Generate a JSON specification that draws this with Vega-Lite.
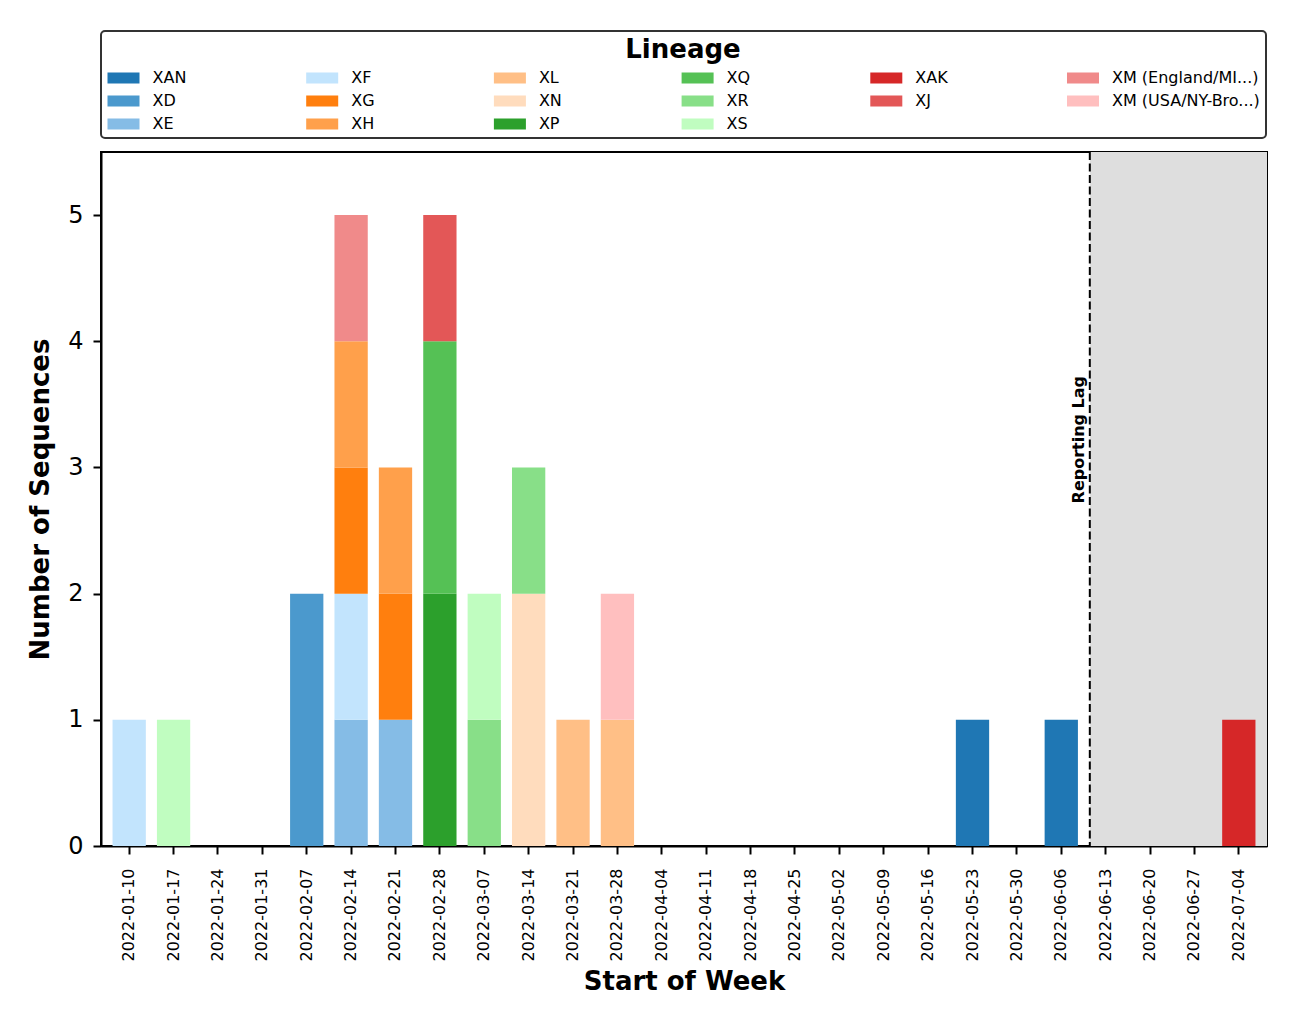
{
  "$schema": "https://vega.github.io/schema/vega-lite/v6.json",
  "width": 1166,
  "height": 694,
  "autosize": {"type": "none"},
  "padding": {"left": 101, "top": 152, "right": 29, "bottom": 177},
  "background": "white",
  "datasets": {
    "counts": [
      {"week": "2022-01-10", "lineage": "XF", "count": 1},
      {"week": "2022-01-17", "lineage": "XS", "count": 1},
      {"week": "2022-02-07", "lineage": "XD", "count": 2},
      {"week": "2022-02-14", "lineage": "XE", "count": 1},
      {"week": "2022-02-14", "lineage": "XF", "count": 1},
      {"week": "2022-02-14", "lineage": "XG", "count": 1},
      {"week": "2022-02-14", "lineage": "XH", "count": 1},
      {"week": "2022-02-14", "lineage": "XM (England/MI...)", "count": 1},
      {"week": "2022-02-21", "lineage": "XE", "count": 1},
      {"week": "2022-02-21", "lineage": "XG", "count": 1},
      {"week": "2022-02-21", "lineage": "XH", "count": 1},
      {"week": "2022-02-28", "lineage": "XP", "count": 2},
      {"week": "2022-02-28", "lineage": "XQ", "count": 2},
      {"week": "2022-02-28", "lineage": "XJ", "count": 1},
      {"week": "2022-03-07", "lineage": "XR", "count": 1},
      {"week": "2022-03-07", "lineage": "XS", "count": 1},
      {"week": "2022-03-14", "lineage": "XN", "count": 2},
      {"week": "2022-03-14", "lineage": "XR", "count": 1},
      {"week": "2022-03-21", "lineage": "XL", "count": 1},
      {"week": "2022-03-28", "lineage": "XL", "count": 1},
      {"week": "2022-03-28", "lineage": "XM (USA/NY-Bro...)", "count": 1},
      {"week": "2022-05-23", "lineage": "XAN", "count": 1},
      {"week": "2022-06-06", "lineage": "XAN", "count": 1},
      {"week": "2022-07-04", "lineage": "XAK", "count": 1}
    ],
    "lineages": [
      {"lineage": "XAN", "rank": 1},
      {"lineage": "XD", "rank": 2},
      {"lineage": "XE", "rank": 3},
      {"lineage": "XF", "rank": 4},
      {"lineage": "XG", "rank": 5},
      {"lineage": "XH", "rank": 6},
      {"lineage": "XL", "rank": 7},
      {"lineage": "XN", "rank": 8},
      {"lineage": "XP", "rank": 9},
      {"lineage": "XQ", "rank": 10},
      {"lineage": "XR", "rank": 11},
      {"lineage": "XS", "rank": 12},
      {"lineage": "XAK", "rank": 13},
      {"lineage": "XJ", "rank": 14},
      {"lineage": "XM (England/MI...)", "rank": 15},
      {"lineage": "XM (USA/NY-Bro...)", "rank": 16}
    ],
    "lag": [
      {"cutoff": "2022-06-10T12:00:00", "label": "Reporting Lag"}
    ]
  },
  "config": {
    "font": "DejaVu Sans",
    "view": {"stroke": "#000000", "strokeWidth": 2},
    "axis": {
      "labelFont": "DejaVu Sans",
      "titleFont": "DejaVu Sans",
      "labelColor": "#000000",
      "titleColor": "#000000",
      "domainColor": "#000000",
      "tickColor": "#000000",
      "domainWidth": 2,
      "tickWidth": 2,
      "tickSize": 8,
      "grid": false,
      "titleFontWeight": "bold",
      "titleFontSize": 26
    }
  },
  "layer": [
    {
      "data": {"name": "lag"},
      "encoding": {
        "x": {
          "field": "cutoff",
          "type": "temporal",
          "axis": null,
          "scale": {
            "nice": false,
            "domain": [
              {"year": 2022, "month": 1, "date": 5, "hours": 13, "minutes": 19},
              {"year": 2022, "month": 7, "date": 8, "hours": 10, "minutes": 41}
            ]
          }
        }
      },
      "layer": [
        {
          "mark": {"type": "rect", "color": "#dedede"},
          "encoding": {
            "x2": {"datum": {"year": 2022, "month": 7, "date": 8, "hours": 10, "minutes": 41}}
          }
        },
        {
          "mark": {"type": "rule", "color": "#000000", "strokeWidth": 2, "strokeDash": [8, 3.5]},
          "encoding": {}
        },
        {
          "mark": {"type": "text", "angle": 270, "font": "DejaVu Sans", "fontWeight": "bold", "fontSize": 16, "align": "center", "baseline": "bottom", "dy": -3, "color": "#000000"},
          "encoding": {
            "text": {"field": "label"},
            "y": {"datum": 3.22, "type": "quantitative", "scale": {"domain": [0, 5.5], "nice": false}}
          }
        }
      ]
    },
    {
      "data": {"name": "counts"},
      "transform": [
        {"lookup": "lineage", "from": {"data": {"name": "lineages"}, "key": "lineage", "fields": ["rank"]}}
      ],
      "mark": {"type": "bar"},
      "encoding": {
        "x": {
          "field": "week",
          "type": "ordinal",
          "scale": {
            "type": "band",
            "paddingInner": 0.25,
            "paddingOuter": 0.26,
            "domain": ["2022-01-10","2022-01-17","2022-01-24","2022-01-31","2022-02-07","2022-02-14","2022-02-21","2022-02-28","2022-03-07","2022-03-14","2022-03-21","2022-03-28","2022-04-04","2022-04-11","2022-04-18","2022-04-25","2022-05-02","2022-05-09","2022-05-16","2022-05-23","2022-05-30","2022-06-06","2022-06-13","2022-06-20","2022-06-27","2022-07-04"]
          },
          "axis": {
            "title": "Start of Week",
            "labelAngle": 270,
            "labelFontSize": 16,
            "labelPadding": 14,
            "titlePadding": 8
          }
        },
        "y": {
          "field": "count",
          "type": "quantitative",
          "stack": "zero",
          "scale": {"domain": [0, 5.5], "nice": false},
          "axis": {
            "title": "Number of Sequences",
            "values": [0, 1, 2, 3, 4, 5],
            "format": "d",
            "labelFontSize": 24,
            "labelPadding": 10,
            "titlePadding": 14
          }
        },
        "order": {"field": "rank", "type": "quantitative", "sort": "ascending"},
        "color": {
          "field": "lineage",
          "type": "nominal",
          "scale": {
            "domain": ["XAN","XF","XL","XQ","XAK","XM (England/MI...)","XD","XG","XN","XR","XJ","XM (USA/NY-Bro...)","XE","XH","XP","XS"],
            "range": ["#1f77b4","#c2e4fd","#ffbf86","#55c155","#d62728","#f08a8a","#4b99cd","#ff7f0e","#ffdcbd","#88df88","#e35757","#ffbfbf","#85bce6","#ffa04b","#2ca02c","#c0fdc0"]
          },
          "legend": {
            "title": "Lineage",
            "orient": "top",
            "direction": "horizontal",
            "columns": 6,
            "offset": 14,
            "padding": 6,
            "strokeColor": "#333333",
            "cornerRadius": 4,
            "titleAnchor": "middle",
            "titleFont": "DejaVu Sans",
            "titleFontSize": 26,
            "titleFontWeight": "bold",
            "titleColor": "#000000",
            "titlePadding": 7,
            "labelFont": "DejaVu Sans",
            "labelFontSize": 16,
            "labelColor": "#000000",
            "labelLimit": 300,
            "labelOffset": 21,
            "symbolType": "M-2.91,-1H2.91V1H-2.91Z",
            "symbolSize": 121,
            "symbolOffset": 8.5,
            "symbolStrokeWidth": 0,
            "symbolOpacity": 1,
            "rowPadding": 7,
            "columnPadding": 118.7,
            "gridAlign": "each",
            "encode": {"legend": {"update": {"strokeWidth": {"value": 2}}}}
          }
        }
      }
    }
  ],
  "resolve": {"scale": {"x": "independent"}, "axis": {"x": "independent"}}
}
